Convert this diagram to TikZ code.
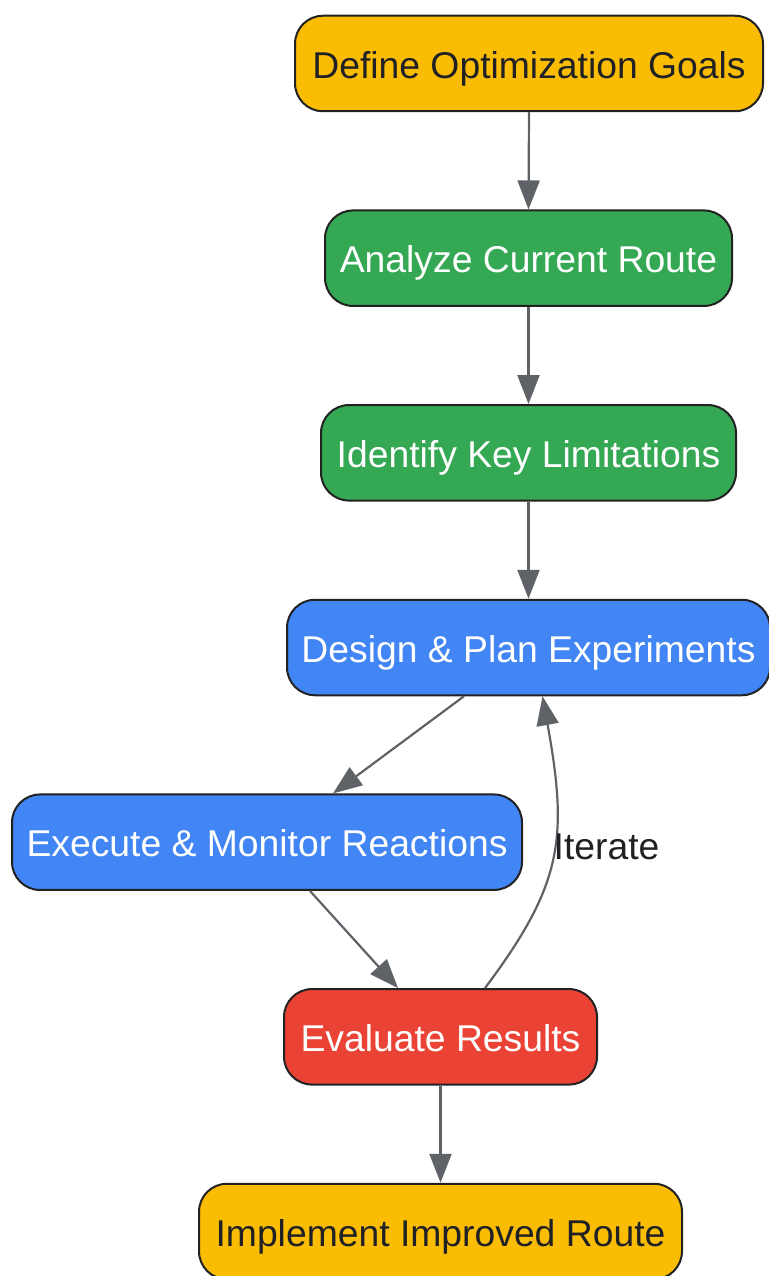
\documentclass[tikz,border=0pt]{standalone}
\usepackage{fontspec}
\setmainfont{Liberation Sans}
\usetikzlibrary{arrows.meta,calc}
\definecolor{gyellow}{HTML}{FBBC04}
\definecolor{ggreen}{HTML}{34A853}
\definecolor{gblue}{HTML}{4285F4}
\definecolor{gred}{HTML}{EA4335}
\definecolor{darktext}{HTML}{202124}
\definecolor{edgegray}{HTML}{5F6368}
\definecolor{bordercol}{HTML}{222222}
\tikzset{
  box/.style={draw=bordercol, line width=2pt, rounded corners=28pt, minimum height=95.5pt,
    inner sep=0pt, text height=29.5pt, text depth=0pt, font=\fontsize{37.3}{40}\selectfont},
  ybox/.style={box, fill=gyellow, text=darktext},
  gbox/.style={box, fill=ggreen, text=white},
  bbox/.style={box, fill=gblue, text=white},
  rbox/.style={box, fill=gred, text=white},
  arr/.style={draw=edgegray, line width=2.2pt, -{Triangle[length=29pt,width=22pt]}, fill=none},
  lbl/.style={text=darktext, inner sep=0pt, text height=29.5pt, text depth=0pt, font=\fontsize{37.3}{40}\selectfont}
}
\begin{document}
\begin{tikzpicture}[x=1pt,y=-1pt]
\useasboundingbox (0,0) rectangle (768,1276);
\node[ybox, minimum width=468pt] (n1) at (529,63.5) {Define Optimization Goals};
\node[gbox, minimum width=407pt] (n2) at (528.5,258.2) {Analyze Current Route};
\node[gbox, minimum width=415pt] (n3) at (528.5,452.8) {Identify Key Limitations};
\node[bbox, minimum width=483pt] (n4) at (528.5,647.5) {Design \& Plan Experiments};
\node[bbox, minimum width=510pt] (n5) at (267,842.2) {Execute \& Monitor Reactions};
\node[rbox, minimum width=313pt] (n6) at (440.5,1036.8) {Evaluate Results};
\node[ybox, minimum width=483pt] (n7) at (440.5,1231.5) {Implement Improved Route};

\draw[arr] (n1.south) -- (n2.north);
\draw[arr] (n2.south) -- (n3.north);
\draw[arr] (n3.south) -- (n4.north);
\coordinate (a45s) at ($(n4.south)+(-64.5,0)$);
\coordinate (a45e) at ($(n5.north)+(66,0)$);
\draw[arr] (a45s) -- (a45e);
\coordinate (a56s) at ($(n5.south)+(43,0)$);
\coordinate (a56e) at ($(n6.north)+(-42.5,0)$);
\draw[arr] (a56s) -- (a56e);
\coordinate (a64s) at ($(n6.north)+(44.5,0)$);
\coordinate (a64e) at ($(n4.south)+(14,0)$);
\draw[arr] (a64s) .. controls (563,884) and (568,838) .. (a64e);
\node[lbl] (it) at (606.5,845) {Iterate};
\draw[arr] (n6.south) -- (n7.north);
\end{tikzpicture}
\end{document}
